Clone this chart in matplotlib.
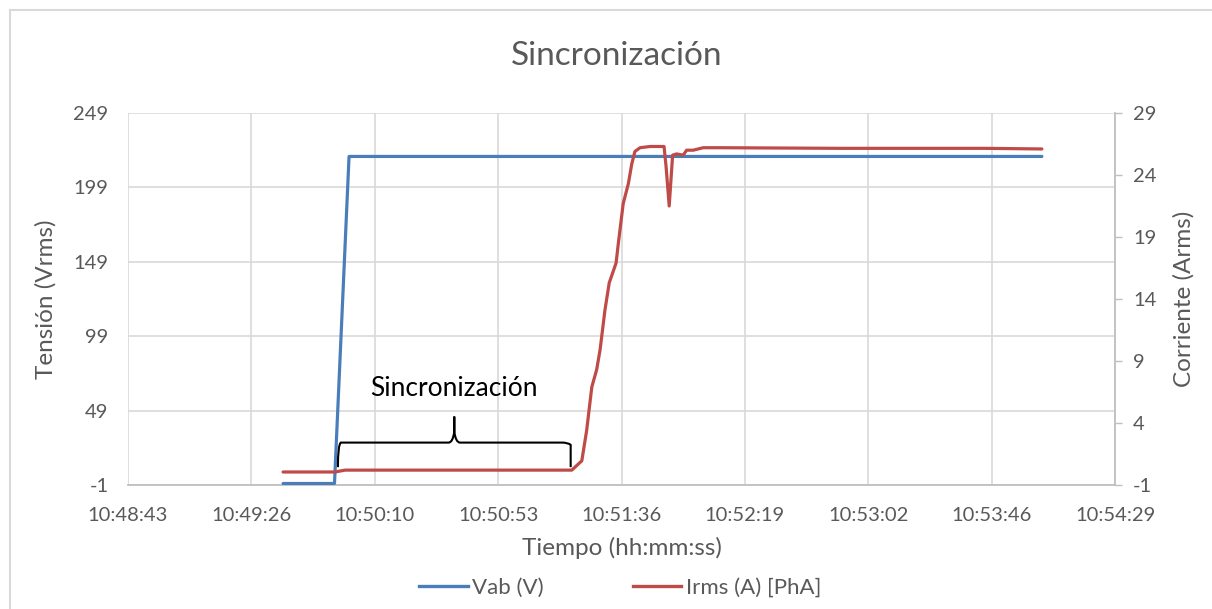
import matplotlib
matplotlib.use("Agg")
import matplotlib.pyplot as plt
from matplotlib.lines import Line2D
from matplotlib.path import Path
from matplotlib.patches import PathPatch

plt.rcParams['font.family'] = ['Lato', 'DejaVu Sans']
plt.rcParams['axes.unicode_minus'] = False

# time in seconds after 10:48:43
tick_labels = ["10:48:43", "10:49:26", "10:50:10", "10:50:53", "10:51:36",
               "10:52:19", "10:53:02", "10:53:46", "10:54:29"]
tick_step = 43.2

vab_t = [54.3, 72.3, 77.4, 320.0]
vab_v = [0.0, 0.0, 219.8, 219.8]

irms_t = [54.3, 72.5, 76.0, 155.4, 158.9, 160.6, 162.4, 164.1, 165.3, 167.0,
          168.5, 170.9, 171.7, 173.4, 175.2, 176.4, 177.5, 179.3, 182.8, 186.3,
          187.7, 188.4, 189.5, 190.7, 192.1, 194.4, 195.6, 197.9, 201.4, 207.3,
          250.0, 300.0, 320.0]
irms_v = [0.05, 0.05, 0.2, 0.2, 0.95, 3.4, 6.9, 8.3, 9.9, 13.1,
          15.3, 16.9, 18.5, 21.7, 23.3, 24.9, 25.9, 26.2, 26.3, 26.3,
          26.3, 24.7, 21.5, 25.6, 25.7, 25.6, 26.0, 26.0, 26.2, 26.2,
          26.15, 26.15, 26.1]

left_ticks = [-1, 49, 99, 149, 199, 249]
right_ticks = [-1, 4, 9, 14, 19, 24, 29]

blue = '#4A7EBB'
red = '#BE4B48'
grid = '#D9D9D9'
txt = '#595959'

fig = plt.figure(figsize=(12.12, 6.09), dpi=100)
W, H = 1212, 609
x0, x1, y0, y1 = 128, 1115, 113, 485
ax = fig.add_axes([x0 / W, 1 - y1 / H, (x1 - x0) / W, (y1 - y0) / H])
ax2 = ax.twinx()

# outer chart border
fig.add_artist(Line2D([10 / W, 10 / W], [0, 1 - 10 / H], color=grid, lw=1.5))
fig.add_artist(Line2D([10 / W, 1], [1 - 10 / H, 1 - 10 / H], color=grid, lw=1.5))

ax.plot(vab_t, vab_v, color=blue, lw=2.3, solid_joinstyle='round', solid_capstyle='round', zorder=3)
ax2.plot(irms_t, irms_v, color=red, lw=2.3, solid_joinstyle='round', solid_capstyle='round', zorder=3)

xt = [i * tick_step for i in range(len(tick_labels))]
ax.set_xlim(0, xt[-1])
ax.set_xticks(xt)
ax.set_xticklabels(tick_labels)
ax.set_ylim(-1, 249)
ax.set_yticks(left_ticks)
ax2.set_ylim(-1, 29)
ax2.set_yticks(right_ticks)

ax.grid(True, color=grid, lw=1.2)
ax.set_axisbelow(True)
for a in (ax, ax2):
    for s in a.spines.values():
        s.set_visible(False)
ax2.spines['right'].set_visible(True)
ax2.spines['right'].set_color('#BFBFBF')
ax2.spines['right'].set_linewidth(1.3)
ax.spines['bottom'].set_visible(True)
ax.spines['bottom'].set_color('#BFBFBF')
ax.spines['bottom'].set_linewidth(1.3)

ax.tick_params(axis='x', length=0, pad=16, labelsize=14.5, labelcolor=txt)
ax.tick_params(axis='y', length=0, pad=14, labelsize=14.5, labelcolor=txt)
ax2.tick_params(axis='y', length=5, width=1, color='#BFBFBF', pad=8, labelsize=14.5, labelcolor=txt)

ax.set_xlabel("Tiempo (hh:mm:ss)", fontsize=17.5, color=txt, labelpad=9)
ax.set_ylabel("Tensión (Vrms)", fontsize=17.5, color=txt, labelpad=12)
ax2.set_ylabel("Corriente (Arms)", fontsize=17.5, color=txt, labelpad=12)

fig.text(617 / W, 1 - 56 / H, "Sincronización", ha='center', va='center', fontsize=24, color=txt)

# curly bracket annotation (data coords on voltage axis)
bx0, bx1, by, btop = 73.5, 155.0, 27.5, 45.0
bmid = (bx0 + bx1) / 2
verts = [(bx0, 11.0), (bx0, by - 1.5), (bx0 + 1.0, by), (bx0 + 3.0, by),
         (bmid - 2.0, by), (bmid - 0.5, by), (bmid, btop - 10), (bmid, btop),
         (bmid, btop - 10), (bmid + 0.5, by), (bmid + 2.0, by),
         (bx1 - 3.0, by), (bx1 - 1.0, by), (bx1, by - 1.5), (bx1, 11.0)]
codes = [Path.MOVETO, Path.CURVE3, Path.CURVE3, Path.LINETO,
         Path.LINETO, Path.CURVE3, Path.CURVE3, Path.LINETO,
         Path.LINETO, Path.CURVE3, Path.CURVE3,
         Path.LINETO, Path.CURVE3, Path.CURVE3, Path.LINETO]
ax.add_patch(PathPatch(Path(verts, codes), fill=False, color='black', lw=1.5, zorder=4))
ax.text(bmid, 64, "Sincronización", ha='center', va='center', fontsize=19, color='black', zorder=4)

handles = [Line2D([], [], color=blue, lw=2.4), Line2D([], [], color=red, lw=2.4)]
fig.legend(handles, ["Vab (V)", "Irms (A) [PhA]"], loc='center', bbox_to_anchor=(620 / W, 1 - 588 / H),
           ncol=2, frameon=False, fontsize=16, labelcolor=txt, handlelength=2.2, handletextpad=0.2,
           columnspacing=4.0)

fig.savefig("out.png", dpi=100, facecolor='white')
